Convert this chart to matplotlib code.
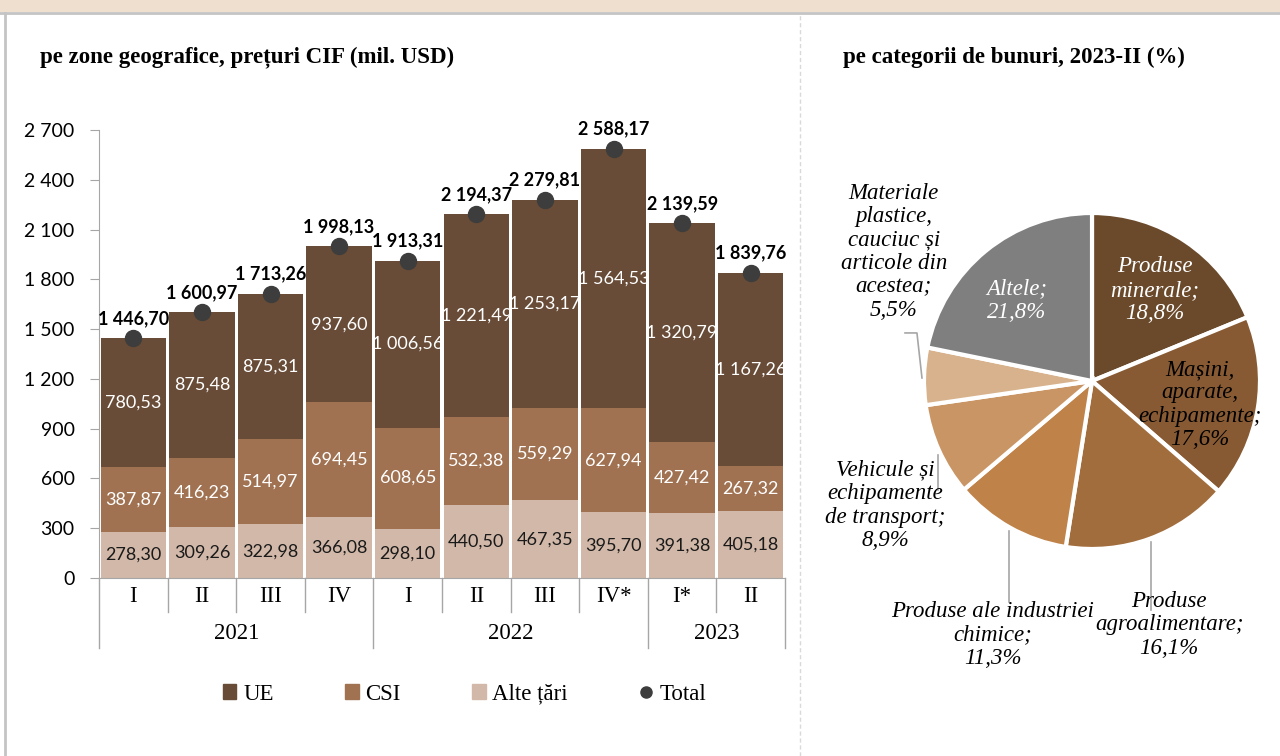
import matplotlib
matplotlib.use("Agg")
import matplotlib.pyplot as plt
from matplotlib.patches import Patch, Rectangle
from matplotlib.lines import Line2D
import numpy as np

trimestre = ['I', 'II', 'III', 'IV', 'I', 'II', 'III', 'IV*', 'I*', 'II']
ani = ['2021', '2022', '2023']
ani_nr_trim = [4, 4, 2]
alte = [278.30, 309.26, 322.98, 366.08, 298.10, 440.50, 467.35, 395.70, 391.38, 405.18]
csi = [387.87, 416.23, 514.97, 694.45, 608.65, 532.38, 559.29, 627.94, 427.42, 267.32]
ue = [780.53, 875.48, 875.31, 937.60, 1006.56, 1221.49, 1253.17, 1564.53, 1320.79, 1167.26]
total = [1446.70, 1600.97, 1713.26, 1998.13, 1913.31, 2194.37, 2279.81, 2588.17, 2139.59, 1839.76]
y_ticks = [0, 300, 600, 900, 1200, 1500, 1800, 2100, 2400, 2700]

categorii = ['Produse\nminerale;\n18,8%', 'Mașini,\naparate,\nechipamente;\n17,6%',
             'Produse\nagroalimentare;\n16,1%', 'Produse ale industriei\nchimice;\n11,3%',
             'Vehicule și\nechipamente\nde transport;\n8,9%',
             'Materiale\nplastice,\ncauciuc și\narticole din\nacestea;\n5,5%', 'Altele;\n21,8%']
ponderi = [18.8, 17.6, 16.1, 11.3, 8.9, 5.5, 21.8]

c_ue, c_csi, c_alte = '#684c37', '#a07252', '#d2b8a8'
culori_pie = ['#6b4a2c', '#875a33', '#a26d3c', '#bf8248', '#c99564', '#d7b28c', '#7f7f7f']
SERIF = 'Liberation Serif'
SANS = 'Lato'

W, H = 1280, 756


def px(l, t, w, h):
    return [l / W, 1 - (t + h) / H, w / W, h / H]


def fmt(v, dec=2):
    s = f"{v:,.{dec}f}"
    return s.replace(',', ' ').replace('.', ',')


fig = plt.figure(figsize=(12.8, 7.56), dpi=100)
fig.patch.set_facecolor('white')

# chenar, banda de sus si separator
fig.add_artist(Rectangle((0, 1 - 12 / H), 1, 12 / H, transform=fig.transFigure,
                         facecolor='#efdfcf', edgecolor='none'))
fig.add_artist(Line2D([0, 1], [1 - 13 / H] * 2, transform=fig.transFigure, color='#c4c4c4', lw=2))
fig.add_artist(Line2D([5 / W] * 2, [0, 1 - 13 / H], transform=fig.transFigure, color='#c4c4c4', lw=2))
fig.add_artist(Line2D([800 / W] * 2, [0, 1 - 14 / H], transform=fig.transFigure,
                      color='#d9d9d9', lw=1, ls=(0, (3, 2))))

fig.text(40 / W, 1 - 57 / H, 'pe zone geografice, prețuri CIF (mil. USD)', family=SERIF,
         weight='bold', fontsize=16.5, va='center', ha='left')
fig.text(843 / W, 1 - 57 / H, 'pe categorii de bunuri, 2023-II (%)', family=SERIF,
         weight='bold', fontsize=16.5, va='center', ha='left')

# ---- grafic cu bare ----
ax = fig.add_axes(px(99, 130, 686, 448))
x = np.arange(len(trimestre))
w = 0.955
ax.bar(x, alte, w, color=c_alte, label='Alte țări')
ax.bar(x, csi, w, bottom=alte, color=c_csi, label='CSI')
ax.bar(x, ue, w, bottom=np.array(alte) + np.array(csi), color=c_ue, label='UE')
ax.plot(x, total, 'o', color='#3d3d3d', ms=11.5, clip_on=False, zorder=5)

for i in range(len(x)):
    ax.text(x[i], alte[i] / 2, fmt(alte[i]), ha='center', va='center', family=SANS,
            fontsize=13, color='#1a1a1a')
    ax.text(x[i], alte[i] + csi[i] / 2, fmt(csi[i]), ha='center', va='center', family=SANS,
            fontsize=13, color='white')
    ax.text(x[i], alte[i] + csi[i] + ue[i] / 2, fmt(ue[i]), ha='center', va='center', family=SANS,
            fontsize=13, color='white')
    ax.annotate(fmt(total[i]), (x[i], total[i]), xytext=(0, 8), textcoords='offset points',
                ha='center', va='bottom', family=SANS, weight='bold', fontsize=13, color='black')

ax.set_xlim(-0.5, len(x) - 0.5)
ax.set_ylim(0, 2700)
ax.set_yticks(y_ticks)
ax.set_yticklabels([fmt(t, 0) for t in y_ticks], family=SANS, fontsize=14)
ax.tick_params(axis='y', length=6.5, color='#a6a6a6', pad=11)
ax.set_xticks([])
for s in ['top', 'right']:
    ax.spines[s].set_visible(False)
for s in ['left', 'bottom']:
    ax.spines[s].set_color('#a6a6a6')

tr = ax.get_xaxis_transform()
limite_ani = np.cumsum([0] + ani_nr_trim) - 0.5
for b in np.arange(-0.5, len(x)):
    jos = -0.156 if b in limite_ani else -0.076
    ax.plot([b, b], [0, jos], transform=tr, color='#a6a6a6', lw=1, clip_on=False)
for i, t in enumerate(trimestre):
    ax.text(x[i], -0.042, t, transform=tr, ha='center', va='center', family=SERIF, fontsize=16.5)
for j, an in enumerate(ani):
    ax.text((limite_ani[j] + limite_ani[j + 1]) / 2, -0.123, an, transform=tr, ha='center',
            va='center', family=SERIF, fontsize=16.5)

handles = [Patch(color=c_ue), Patch(color=c_csi), Patch(color=c_alte),
           Line2D([], [], marker='o', ls='none', color='#3d3d3d', ms=8)]
fig.legend(handles, ['UE', 'CSI', 'Alte țări', 'Total'], ncol=4, frameon=False,
           loc='center left', bbox_to_anchor=(202 / W, 1 - 694 / H), prop={'family': SERIF, 'size': 16.5},
           handlelength=0.6, handleheight=0.6, handletextpad=0.3, columnspacing=3.1)

# ---- grafic pie ----
axp = fig.add_axes(px(924, 213, 336, 336))
axp.pie(ponderi, colors=culori_pie, startangle=90, counterclock=False, radius=1,
        wedgeprops=dict(edgecolor='white', linewidth=3))
axp.set_xlim(-1, 1)
axp.set_ylim(-1, 1)
axp.axis('off')

poz = [(0.375, 0.54), (0.64, -0.14), (0.46, -1.45), (-0.59, -1.51), (-1.23, -0.74),
       (-1.18, 0.77), (-0.45, 0.48)]
culori_text = ['white', 'black', 'black', 'black', 'black', 'black', 'white']
for lab, (px_, py_), ct in zip(categorii, poz, culori_text):
    axp.text(px_, py_, lab, ha='center', va='center', family=SERIF, style='italic', fontsize=16.5,
             color=ct, linespacing=1.15, clip_on=False)

gl = dict(color='#a6a6a6', lw=1.2, clip_on=False)
axp.plot([0.351, 0.351], [-0.958, -1.363], **gl)
axp.plot([-0.494, -0.494], [-0.893, -1.315], **gl)
axp.plot([-0.917, -0.917], [-0.44, -0.649], **gl)
axp.plot([-1.113, -1.042, -1.012], [0.286, 0.286, 0.018], **gl)

fig.savefig('out.png', dpi=100)
